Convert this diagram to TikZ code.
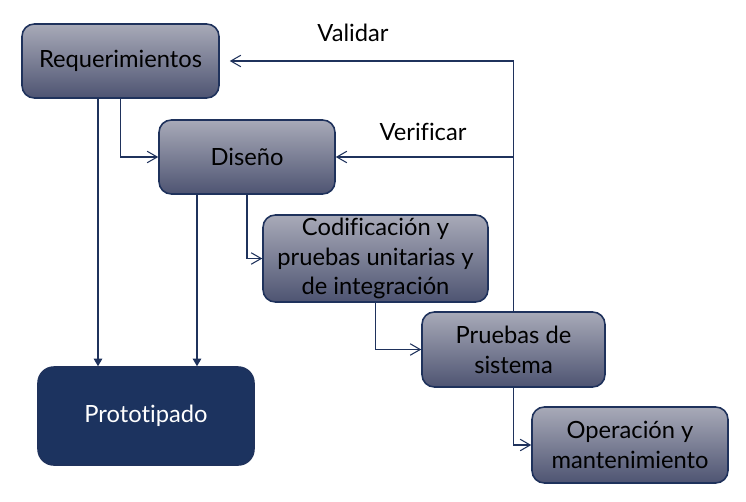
\documentclass[tikz,border=0pt]{standalone}
\usepackage{fontspec}
\setmainfont{Lato}[Ligatures=NoCommon]
\usetikzlibrary{arrows.meta}

\definecolor{navy}{RGB}{31,50,92}
\definecolor{boxtop}{RGB}{168,170,184}
\definecolor{boxbot}{RGB}{78,84,114}
\definecolor{protofill}{RGB}{28,51,95}

\tikzset{
	etapa/.style={draw=navy, line width=0.9pt, rounded corners=7pt, top color=boxtop, bottom color=boxbot,
		align=center, font=\fontsize{13.5}{17}\selectfont, inner sep=0pt},
	flecha/.style={draw=navy, line width=0.6pt, -{Straight Barb[length=2mm, width=2.3mm]}},
	flechallena/.style={draw=navy, line width=0.6pt, -{Triangle[length=1.5mm, width=1.7mm]}}
}

\begin{document}
\begin{tikzpicture}[x=0.02cm, y=-0.02cm]
\useasboundingbox (0,0) rectangle (746,501);

% etapas
\node[etapa, minimum width=3.94cm, minimum height=1.48cm] (req) at (120.5,61) {Requerimientos};
\node[etapa, minimum width=3.52cm, minimum height=1.48cm] (dis) at (247,157) {Diseño};
\node[etapa, minimum width=4.5cm, minimum height=1.74cm] (cod) at (375.5,258.5) {Codificación y\\pruebas unitarias y\\de integración};
\node[etapa, minimum width=3.66cm, minimum height=1.5cm] (pru) at (513.5,349.5) {Pruebas de\\sistema};
\node[etapa, minimum width=3.92cm, minimum height=1.52cm] (ope) at (630,445) {Operación y\\mantenimiento};

% prototipo
\node[draw=navy, line width=0.9pt, rounded corners=9pt, fill=protofill, text=white,
	minimum width=4.32cm, minimum height=1.96cm, font=\fontsize{13.5}{17}\selectfont] (proto) at (146,416) {Prototipado};

% cascada
\draw[flecha] (req.south) |- (dis.west);
\draw[flecha] (dis.south) |- (cod.west);
\draw[flecha] (cod.south) |- (pru.west);
\draw[flecha] (pru.south) |- (ope.west);

% hacia el prototipo
\draw[flechallena] ([xshift=-0.45cm]req.south) -- ([xshift=-0.45cm]req.south |- proto.north);
\draw[flechallena] ([xshift=-1cm]dis.south) -- ([xshift=-1cm]dis.south |- proto.north);

% retroalimentacion
\draw[flecha, shorten >=0.2cm] (pru.north) |- (req.east);
\draw[flecha] (pru.north |- dis.east) -- (dis.east);
\draw	(353,33) node[font=\fontsize{13.5}{17}\selectfont] {Validar}
		(423,132) node[font=\fontsize{13.5}{17}\selectfont] {Verificar};

\end{tikzpicture}
\end{document}
